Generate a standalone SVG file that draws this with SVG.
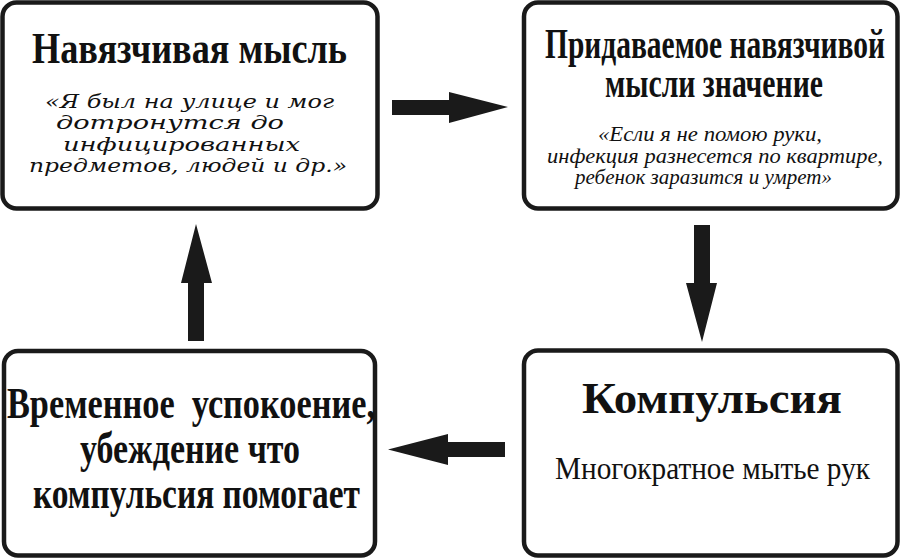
<svg xmlns="http://www.w3.org/2000/svg" width="900" height="560" viewBox="0 0 900 560">
<style>
.box{fill:#fff;stroke:#1a1a1a;stroke-width:4.5}
.t{font-family:"Liberation Serif","Times New Roman",serif;font-weight:bold;font-size:44px;fill:#111}
.t2{font-family:"Liberation Serif","Times New Roman",serif;font-weight:bold;font-size:42px;fill:#111}
.it1{font-family:"DejaVu Serif","Liberation Serif",serif;font-style:italic;font-size:18px;fill:#111}
.it2{font-family:"Liberation Serif","Times New Roman",serif;font-style:italic;font-size:20px;fill:#111}
.r{font-family:"Liberation Serif","Times New Roman",serif;font-size:32px;fill:#111}
.arr{fill:#1a1a1a}
</style>
<rect width="900" height="560" fill="#fff"/>
<g id="connectors">
<polygon class="arr" points="392,100 449,100 449,92 508,107 449,123 449,115 392,115"/>
<polygon class="arr" points="694,225 710,225 710,283 717,283 702,342 686,283 694,283"/>
<polygon class="arr" points="505,442 448,442 448,434 388,449.5 448,465 448,457 505,457"/>
<polygon class="arr" points="188,341 204,341 204,283 212,283 196,224 181,283 188,283"/>
</g>
<g id="node-obsession">
<rect class="box" x="2.5" y="2.5" width="375" height="206" rx="14"/>
<text class="t" x="32" y="63" textLength="315" lengthAdjust="spacingAndGlyphs">Навязчивая мысль</text>
<text class="it1" x="45" y="108" textLength="289" lengthAdjust="spacingAndGlyphs">«Я был на улице и мог</text>
<text class="it1" x="56" y="129" textLength="228" lengthAdjust="spacingAndGlyphs">дотронутся до</text>
<text class="it1" x="63" y="151" textLength="237" lengthAdjust="spacingAndGlyphs">инфицированных</text>
<text class="it1" x="29" y="172" textLength="318" lengthAdjust="spacingAndGlyphs">предметов, людей и др.»</text>
</g>
<g id="node-meaning">
<rect class="box" x="524" y="2.5" width="373.5" height="206" rx="14"/>
<text class="t2" x="545" y="58" textLength="340" lengthAdjust="spacingAndGlyphs">Придаваемое навязчивой</text>
<text class="t2" x="605" y="97" textLength="218" lengthAdjust="spacingAndGlyphs">мысли значение</text>
<text class="it2" x="598" y="141" textLength="224" lengthAdjust="spacingAndGlyphs">«Если я не помою руки,</text>
<text class="it2" x="547" y="163" textLength="336" lengthAdjust="spacingAndGlyphs">инфекция разнесется по квартире,</text>
<text class="it2" x="575" y="184" textLength="257" lengthAdjust="spacingAndGlyphs">ребенок заразится и умрет»</text>
</g>
<g id="node-compulsion">
<rect class="box" x="524" y="350.5" width="373.5" height="205" rx="14"/>
<text class="t" x="582" y="413" textLength="260" lengthAdjust="spacingAndGlyphs">Компульсия</text>
<text class="r" x="555" y="479" textLength="315" lengthAdjust="spacingAndGlyphs">Многократное мытье рук</text>
</g>
<g id="node-relief">
<rect class="box" x="4" y="351" width="371" height="204.5" rx="14"/>
<text class="t" x="7" y="418" textLength="368" lengthAdjust="spacingAndGlyphs" xml:space="preserve">Временное  успокоение,</text>
<text class="t" x="80" y="463" textLength="220" lengthAdjust="spacingAndGlyphs">убеждение что</text>
<text class="t" x="33" y="508" textLength="327" lengthAdjust="spacingAndGlyphs">компульсия помогает</text>
</g>
</svg>
